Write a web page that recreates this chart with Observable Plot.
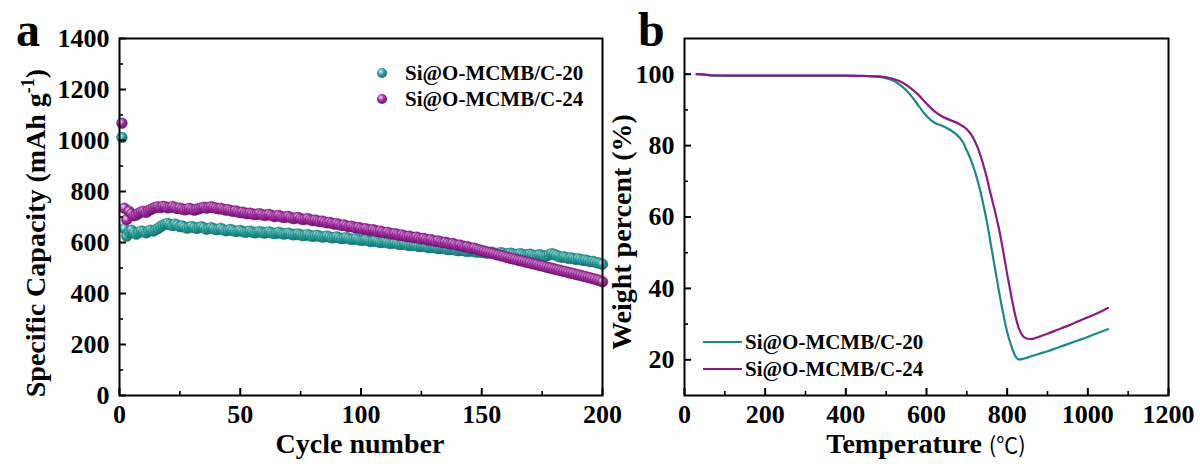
<!DOCTYPE html>
<html><head><meta charset="utf-8">
<script src="https://cdn.jsdelivr.net/npm/d3@7"></script>
<script src="https://cdn.jsdelivr.net/npm/@observablehq/plot@0.6"></script>
<style>
body{margin:0;background:#fff;}
#wrap{position:relative;width:1200px;height:464px;overflow:hidden;background:#fff;}
#pa{position:absolute;left:0;top:0;width:630px;height:464px;}
#pb{position:absolute;left:600px;top:0;width:600px;height:464px;}
svg{overflow:visible;}
</style></head><body>
<div id="wrap"><div id="pa"></div><div id="pb"></div></div>
<script>
// ---------- Panel a data: specific capacity vs cycle number ----------
const seriesNames = ["Si@O-MCMB/C-20", "Si@O-MCMB/C-24"];
const seriesColors = ["#1a8a87", "#8a1a8a"];
const cycleNumbers = d3.range(1, 201);
const capC20 = [
1012,655,625,640,648,638,633,640,645,642, 638,644,648,645,650,655,662,668,672,675,
670,666,672,668,662,665,660,656,660,663, 658,655,659,662,657,652,655,658,654,650,
652,655,650,646,648,651,647,643,645,647, 643,640,642,645,641,638,640,643,640,637,
639,642,638,635,637,640,636,633,635,637, 633,630,632,634,630,627,629,631,627,624,
626,628,624,621,623,625,621,618,620,622, 618,615,617,619,615,612,613,615,611,608,
609,611,607,604,605,607,603,600,601,603, 599,596,597,599,595,592,593,595,591,588,
589,591,587,584,585,587,583,580,581,583, 579,576,577,579,575,572,573,575,571,568,
569,571,567,565,566,568,564,562,563,562, 560,558,560,562,559,556,558,560,557,554,
556,558,555,552,554,556,553,550,552,554, 551,548,550,552,549,546,548,552,556,553,
549,545,542,544,541,538,540,537,534,536, 533,530,531,528,525,526,523,520,518,515];
const capC24 = [
1068,735,690,722,712,705,708,715,720,722, 718,725,730,735,738,740,737,742,740,736,
738,741,737,733,735,731,728,731,734,730, 727,730,733,736,738,735,738,740,737,735,
732,734,730,727,729,725,722,724,720,717, 719,715,713,715,712,709,711,713,709,706,
708,710,706,702,704,706,701,698,700,702, 697,694,696,698,693,690,692,694,689,686,
688,685,682,684,680,677,679,675,672,674, 670,667,669,665,662,664,660,657,659,655,
652,654,650,648,650,646,643,645,641,638, 640,636,633,635,631,628,630,626,623,625,
621,619,621,617,614,616,612,609,611,607, 604,606,602,599,601,597,594,596,592,589,
590,586,583,584,580,577,578,574,571,568, 566,563,561,558,556,553,551,548,546,543,
541,538,536,534,531,529,527,524,522,520, 517,515,513,510,508,506,503,501,499,496,
494,492,489,487,485,482,480,478,475,473, 471,468,466,463,461,458,456,453,450,446];
const capXTicks = [0, 50, 100, 150, 200];
const capXMinor = [25, 75, 125, 175];
const capYTicks = [0, 200, 400, 600, 800, 1000, 1200, 1400];
const capYMinor = [100, 300, 500, 700, 900, 1100, 1300];

// ---------- Panel b data: TGA weight percent vs temperature ----------
const tempC20 = [30,50,70,100,200,300,400,450,480,500,520,540,560,580,600,620,640,660,680,690,700,710,720,730,740,750,760,770,780,790,800,810,820,828,840,860,880,900,925,950,975,1000,1025,1050];
const wtC20   = [100,99.9,99.6,99.6,99.6,99.6,99.6,99.5,99.3,98.9,98.1,96.5,94.2,91.2,88.3,86.4,85.5,84.3,82.5,81.0,78.6,76.0,72.8,68.8,64.0,58.5,52.0,45.5,39.0,33.0,27.8,24.0,21.1,20.1,20.3,21.0,21.7,22.4,23.4,24.4,25.4,26.4,27.5,28.6];
const tempC24 = [30,50,70,100,200,300,400,450,480,500,520,540,560,580,600,620,640,660,680,700,710,720,730,740,750,760,770,780,790,800,810,820,830,840,850,860,880,900,925,950,975,1000,1025,1050];
const wtC24   = [100,99.9,99.7,99.6,99.6,99.6,99.6,99.5,99.4,99.1,98.6,97.7,96.2,94.2,91.8,89.6,88.1,87.1,86.1,84.6,83.2,81.2,78.5,75.0,70.8,66.0,61.5,56.5,50.5,44.0,38.0,32.5,28.5,26.5,25.9,25.8,26.5,27.3,28.4,29.5,30.7,31.9,33.1,34.5];
const tgaXTicks = [0, 200, 400, 600, 800, 1000, 1200];
const tgaXMinor = [100, 300, 500, 700, 900, 1100];
const tgaYTicks = [20, 40, 60, 80, 100];
const tgaYMinor = [30, 50, 70, 90];

const FONT = "Liberation Serif, Tinos, DejaVu Serif, serif";
const CJK = "Noto Sans CJK SC";

const capRows = [capC20, capC24].map((vals, s) =>
  vals.map((v, i) => ({cycle: cycleNumbers[i], cap: v, series: seriesNames[s]})));
const tgaRows = [[tempC20, wtC20], [tempC24, wtC24]].map(([t, w], s) =>
  t.map((tv, i) => ({temp: tv, wt: w[i], series: seriesNames[s]})));

function gradientDefs() {
  const defs = d3.create("svg:defs");
  const stops = [["gT", "#e4f6f5", "#2fa3a0", "#0f6e6c"], ["gP", "#f6e0f6", "#a532a5", "#6a0f6a"]];
  for (const [id, c0, c1, c2] of stops) {
    const g = defs.append("radialGradient").attr("id", id).attr("cx", "0.38").attr("cy", "0.35").attr("r", "0.7");
    g.append("stop").attr("offset", "0").attr("stop-color", c0);
    g.append("stop").attr("offset", "0.45").attr("stop-color", c1);
    g.append("stop").attr("offset", "1").attr("stop-color", c2);
  }
  return defs.node();
}

const tickFont = {fontSize: 26, fontWeight: "bold", fontFamily: FONT, tickFormat: d => String(d)};

function axesFor(xT, xM, yT, yM, plotW, plotH) {
  return [
    Plot.tickX(xT, {x: d => d, insetTop: plotH - 7, stroke: "#000", strokeWidth: 2}),
    Plot.tickX(xM, {x: d => d, insetTop: plotH - 4, stroke: "#000", strokeWidth: 1.6}),
    Plot.tickY(yT, {y: d => d, insetRight: plotW - 7, stroke: "#000", strokeWidth: 2}),
    Plot.tickY(yM, {y: d => d, insetRight: plotW - 4, stroke: "#000", strokeWidth: 1.6}),
    Plot.axisX({ticks: xT, tickSize: 0, tickPadding: 9, label: null, ...tickFont}),
    Plot.axisY({ticks: yT, tickSize: 0, tickPadding: 10, label: null, ...tickFont}),
    Plot.frame({stroke: "#000", strokeWidth: 2})
  ];
}

// ---------- Panel a ----------
const svgA = Plot.plot({
  width: 630, height: 464,
  marginLeft: 119, marginRight: 28, marginTop: 38, marginBottom: 69,
  style: {background: "transparent", fontFamily: FONT, color: "#000", overflow: "visible"},
  x: {domain: [0, 200]},
  y: {domain: [0, 1400]},
  marks: [
    gradientDefs,
    Plot.dot(capRows[0], {x: "cycle", y: "cap", r: 5.4, fill: "url(#gT)", stroke: "#0f6e6c", strokeWidth: 0.4}),
    Plot.dot(capRows[1], {x: "cycle", y: "cap", r: 5.4, fill: "url(#gP)", stroke: "#6a0f6a", strokeWidth: 0.4}),
    ...axesFor(capXTicks, capXMinor, capYTicks, capYMinor, 483, 357)
  ]
});
document.getElementById("pa").append(svgA);

// ---------- Panel b ----------
const svgB = Plot.plot({
  width: 600, height: 464,
  marginLeft: 84, marginRight: 32, marginTop: 38, marginBottom: 69,
  style: {background: "transparent", fontFamily: FONT, color: "#000", overflow: "visible"},
  x: {domain: [0, 1200]},
  y: {domain: [10, 110]},
  marks: [
    Plot.line(tgaRows[0], {x: "temp", y: "wt", stroke: seriesColors[0], strokeWidth: 2.2, curve: "monotone-x"}),
    Plot.line(tgaRows[1], {x: "temp", y: "wt", stroke: seriesColors[1], strokeWidth: 2.2, curve: "monotone-x"}),
    ...axesFor(tgaXTicks, tgaXMinor, tgaYTicks, tgaYMinor, 484, 357)
  ]
});
document.getElementById("pb").append(svgB);

// ---------- Labels, panel letters and legends ----------
const A = d3.select(svgA), B = d3.select(svgB);
function txt(sel, x, y, s, size, extra = {}) {
  const t = sel.append("text").attr("x", x).attr("y", y).attr("font-family", FONT)
    .attr("font-weight", "bold").attr("font-size", size).attr("fill", "#000")
    .attr("text-anchor", "start").text(s);
  for (const k in extra) t.attr(k, extra[k]);
  return t;
}
txt(A, 16, 46, "a", 48);
txt(B, 38, 46, "b", 48);
txt(A, 360, 453, "Cycle number", 28, {"text-anchor": "middle"});
const xl = B.append("text").attr("x", 326).attr("y", 453).attr("text-anchor", "middle")
  .attr("font-family", FONT).attr("font-weight", "bold").attr("font-size", 28).attr("fill", "#000");
xl.append("tspan").text("Temperature ");
xl.append("tspan").attr("font-family", CJK).attr("font-weight", "normal").attr("font-size", 22).text("(℃)");
const yl = A.append("text").attr("transform", "translate(45,233) rotate(-90)")
  .attr("text-anchor", "middle").attr("font-family", FONT).attr("font-weight", "bold")
  .attr("font-size", 28).attr("fill", "#000");
yl.append("tspan").text("Specific Capacity (mAh g");
yl.append("tspan").attr("dy", -11).attr("font-size", 18).text("-1");
yl.append("tspan").attr("dy", 11).text(")");
txt(B, 0, 0, "Weight percent (%)", 28, {"text-anchor": "middle", transform: "translate(31,232) rotate(-90)"});

// legend a
seriesNames.forEach((name, i) => {
  A.append("circle").attr("cx", 382).attr("cy", 73 + i * 26).attr("r", 5)
    .attr("fill", i === 0 ? "url(#gT)" : "url(#gP)");
  txt(A, 405, 73 + i * 26, name, 21, {"dominant-baseline": "central"});
});
// legend b
seriesNames.forEach((name, i) => {
  const y = 342 + i * 27;
  B.append("line").attr("x1", 103).attr("x2", 142).attr("y1", y).attr("y2", y)
    .attr("stroke", seriesColors[i]).attr("stroke-width", 2.2);
  txt(B, 145, y, name, 21, {"dominant-baseline": "central"});
});
</script>
</body></html>
